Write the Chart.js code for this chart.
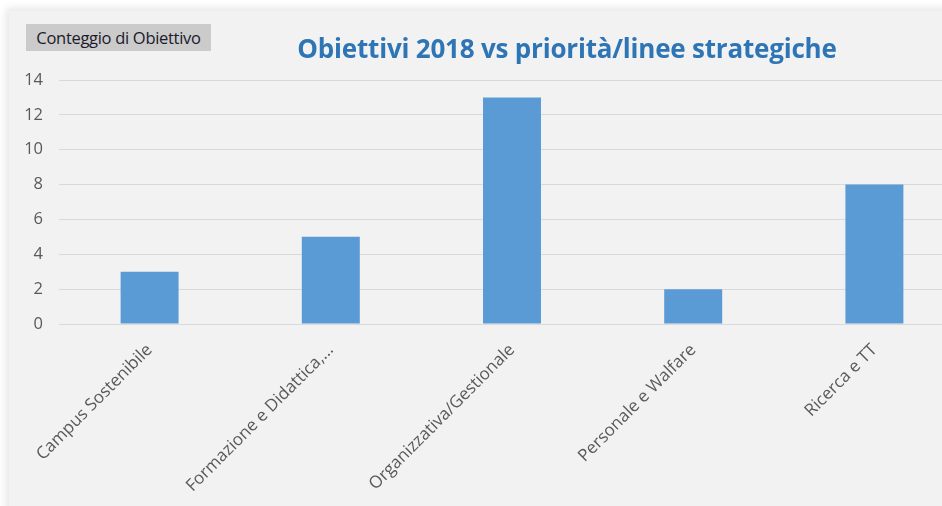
<!DOCTYPE html>
<html>
<head>
<meta charset="utf-8">
<script src="https://cdn.jsdelivr.net/npm/chart.js@4.4.1/dist/chart.umd.min.js"></script>
<style>
  html, body { margin: 0; padding: 0; background: #fff; overflow: hidden; width: 942px; height: 506px; }
  #panel { position: absolute; left: 9px; top: 11px; width: 980px; height: 520px; background: #F2F2F2;
           box-shadow: 0 0 8px 3px rgba(0,0,0,0.10); }
  #wrap { position: absolute; left: 9px; top: 11px; width: 960px; height: 495px; }
  #btn { position: absolute; left: 26px; top: 24px; width: 185px; height: 27px; background: #CBCBCB;
         font: 16.5px "Open Sans", sans-serif; letter-spacing: -0.3px; color: #1a1a2a; line-height: 27px;
         text-align: center; box-sizing: border-box; }
  #title { position: absolute; left: 240px; width: 654px; top: 30px; text-align: center;
           font: bold 26px "Open Sans", sans-serif; letter-spacing: -0.2px; color: #2E75B6; }
</style>
</head>
<body>
<div id="panel"></div>
<div id="wrap"><canvas id="chart"></canvas></div>
<div id="btn">Conteggio di Obiettivo</div>
<div id="title">Obiettivi 2018 vs priorità/linee strategiche</div>
<script>
const categories = ['Campus Sostenibile', 'Formazione e Didattica,...', 'Organizzativa/Gestionale', 'Personale e Walfare', 'Ricerca e TT'];
const counts = [3, 5, 13, 2, 8];
const yTicks = [0, 2, 4, 6, 8, 10, 12, 14];

const ctx = document.getElementById('chart').getContext('2d');
new Chart(ctx, {
    type: 'bar',
    data: {
        labels: categories,
        datasets: [{
            label: 'Conteggio di Obiettivo',
            data: counts,
            backgroundColor: '#5B9BD5',
            categoryPercentage: 1,
            barPercentage: 0.32
        }]
    },
    options: {
        responsive: true,
        maintainAspectRatio: false,
        animation: false,
        layout: { padding: { top: 69, right: 4, left: 0, bottom: 0 } },
        plugins: { legend: { display: false }, tooltip: { enabled: false } },
        scales: {
            y: {
                min: 0, max: 14,
                afterBuildTicks: axis => { axis.ticks = yTicks.map(v => ({ value: v })); },
                afterFit: axis => { axis.width = 50; },
                border: { display: false },
                grid: { color: '#D9D9D9', lineWidth: 1, drawTicks: false },
                ticks: { color: '#595959', padding: 16, font: { family: 'Open Sans', size: 16.5 } }
            },
            x: {
                afterFit: axis => { axis.height = 182; },
                border: { color: '#D9D9D9' },
                grid: { display: false },
                ticks: { color: '#595959', minRotation: 45, maxRotation: 45, padding: 8,
                         font: { family: 'Open Sans', size: 17 } }
            }
        }
    }
});
</script>
</body>
</html>
